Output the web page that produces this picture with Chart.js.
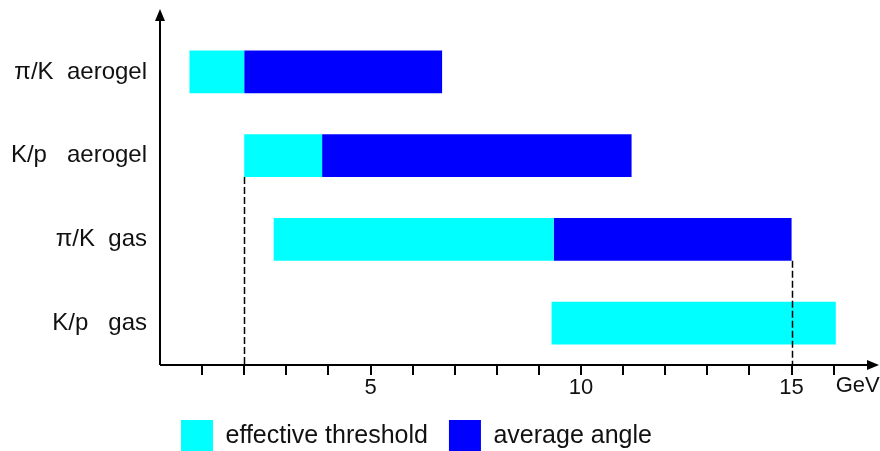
<!DOCTYPE html>
<html>
<head>
<meta charset="utf-8">
<script src="https://cdn.jsdelivr.net/npm/chart.js@4/dist/chart.umd.min.js"></script>
<style>
  html, body { margin: 0; padding: 0; background: #fff; overflow: hidden; }
  #wrap { width: 880px; height: 451px; position: relative; }
</style>
</head>
<body>
<div id="wrap"><canvas id="ranges"></canvas></div>
<script>
// Momentum ranges for pi/K and K/p separation (GeV)
var categories = ['\u03c0/K  aerogel', 'K/p   aerogel', '\u03c0/K  gas', 'K/p   gas'];
var thresholdStart = [0.7, 2.0, 2.7, 9.3];
var thresholdEnd = [2.0, 3.85, 9.35, 16.05];
var angleEnd = [6.7, 11.2, 15.0, null];
var xTickLabels = [5, 10, 15];
var unitLabel = 'GeV';
// dashed guides: value on x, row whose bar they hang from
var guideValues = [2.0, 15.0];
var guideRows = [1, 2];

var cyan = '#00ffff',
    blue = '#0000ff',
    ink = '#111111',
    font = '"Liberation Sans", Arial, sans-serif';

var thresholdData = categories.map(function (c, i) { return [thresholdStart[i], thresholdEnd[i]]; });
var angleData = categories.map(function (c, i) {
    return angleEnd[i] === null ? null : [thresholdEnd[i], angleEnd[i]];
});

// axes with arrow heads, dashed guides, unit label
var decorations = {
    id: 'decorations',
    afterDatasetsDraw: function (chart) {
        var ctx = chart.ctx, area = chart.chartArea;
        var xs = chart.scales.x;
        var meta = chart.getDatasetMeta(0);

        ctx.save();
        ctx.strokeStyle = '#000';
        ctx.lineWidth = 1.5;
        ctx.setLineDash([7, 3]);
        guideValues.forEach(function (v, i) {
            var bar = meta.data[guideRows[i]];
            var px = Math.round(xs.getPixelForValue(v)) + 0.5;
            ctx.beginPath();
            ctx.moveTo(px, bar.y + bar.height / 2);
            ctx.lineTo(px, area.bottom);
            ctx.stroke();
        });
        ctx.setLineDash([]);

        ctx.lineWidth = 2;
        ctx.beginPath();
        ctx.moveTo(area.left, area.bottom);
        ctx.lineTo(area.left, 18);
        ctx.moveTo(area.left, area.bottom);
        ctx.lineTo(area.right - 10, area.bottom);
        ctx.stroke();

        ctx.fillStyle = '#000';
        ctx.beginPath();
        ctx.moveTo(area.left, 9);
        ctx.lineTo(area.left - 5, 21);
        ctx.lineTo(area.left + 5, 21);
        ctx.closePath();
        ctx.fill();
        ctx.beginPath();
        ctx.moveTo(area.right - 1, area.bottom);
        ctx.lineTo(area.right - 13, area.bottom - 5);
        ctx.lineTo(area.right - 13, area.bottom + 5);
        ctx.closePath();
        ctx.fill();

        ctx.fillStyle = ink;
        ctx.font = '22px ' + font;
        ctx.textAlign = 'left';
        ctx.textBaseline = 'middle';
        ctx.fillText(unitLabel, xs.getPixelForValue(16) + 2, area.bottom + 21);
        ctx.restore();
    }
};

var ctx = document.getElementById('ranges').getContext('2d');
var rangeChart = new Chart(ctx, {
    type: 'bar',
    data: {
        labels: categories,
        datasets: [{
            label: 'effective threshold',
            data: thresholdData,
            backgroundColor: cyan,
            borderWidth: 0,
            grouped: false
        },
        {
            label: 'average angle',
            data: angleData,
            backgroundColor: blue,
            borderWidth: 0,
            grouped: false
        }]
    },
    options: {
        indexAxis: 'y',
        responsive: true,
        maintainAspectRatio: false,
        animation: false,
        barPercentage: 0.51,
        categoryPercentage: 1,
        layout: {
            padding: { left: 0, top: 30, right: 0, bottom: -11 }
        },
        scales: {
            x: {
                type: 'linear',
                min: 0,
                max: 17.1,
                afterBuildTicks: function (scale) {
                    var t = [];
                    for (var v = 1; v <= 16; v++) t.push({ value: v });
                    scale.ticks = t;
                },
                afterFit: function (scale) { scale.height = 34; },
                border: { display: false },
                grid: {
                    drawOnChartArea: false,
                    drawTicks: true,
                    tickLength: 10,
                    color: '#000',
                    lineWidth: 2
                },
                ticks: {
                    autoSkip: false,
                    maxRotation: 0,
                    padding: 0,
                    color: ink,
                    font: { family: font, size: 22 },
                    callback: function (value) {
                        return xTickLabels.indexOf(value) >= 0 ? String(value) : '';
                    }
                }
            },
            y: {
                type: 'category',
                afterFit: function (scale) { scale.width = 160; },
                border: { display: false },
                grid: { display: false, drawTicks: false },
                ticks: {
                    padding: 13,
                    color: ink,
                    font: { family: font, size: 24 }
                }
            }
        },
        plugins: {
            legend: {
                display: true,
                position: 'bottom',
                align: 'start',
                fullSize: false,
                labels: {
                    boxWidth: 32,
                    boxHeight: 32,
                    padding: 21,
                    color: ink,
                    font: { family: font, size: 25 }
                }
            },
            tooltip: { enabled: false }
        }
    },
    plugins: [decorations]
});
</script>
</body>
</html>
